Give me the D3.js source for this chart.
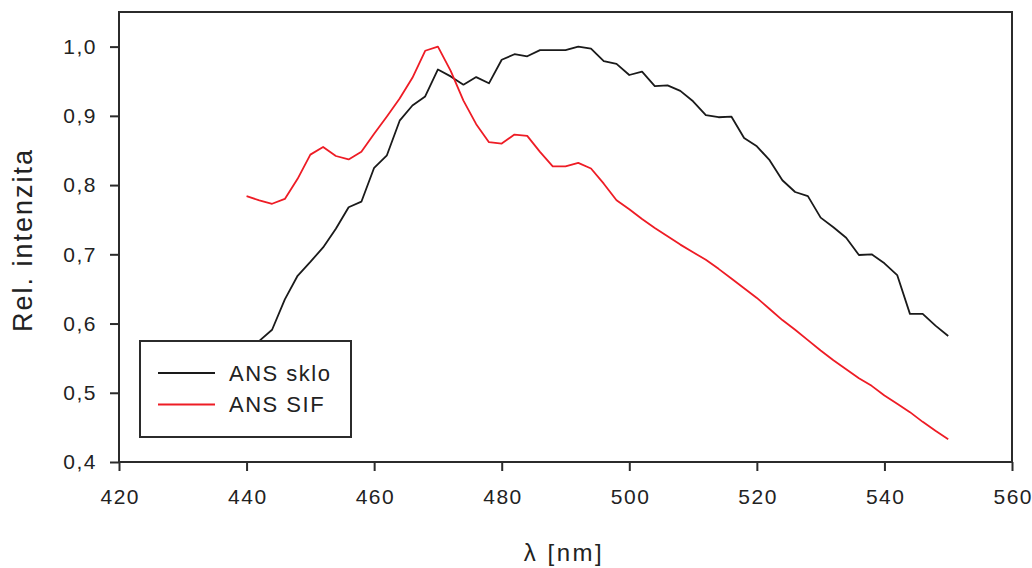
<!DOCTYPE html>
<html>
<head>
<meta charset="utf-8">
<script src="https://cdn.jsdelivr.net/npm/d3@7/dist/d3.min.js"></script>
<style>
  html, body { margin: 0; padding: 0; background: #fff; }
  svg { display: block; font-family: "Liberation Sans", Arial, Helvetica, sans-serif; }
</style>
</head>
<body>
<svg id="chart" width="1032" height="568"></svg>
<script>
const wavelengths = [440,442,444,446,448,450,452,454,456,458,460,462,464,466,468,470,472,474,476,478,480,482,484,486,488,490,492,494,496,498,500,502,504,506,508,510,512,514,516,518,520,522,524,526,528,530,532,534,536,538,540,542,544,546,548,550];

const ansSklo = [0.555,0.575,0.591,0.635,0.669,0.689,0.710,0.737,0.768,0.776,0.825,0.843,0.893,0.915,0.928,0.967,0.957,0.945,0.956,0.947,0.981,0.989,0.986,0.995,0.995,0.995,1.000,0.997,0.979,0.975,0.959,0.964,0.943,0.944,0.936,0.921,0.901,0.898,0.899,0.868,0.856,0.836,0.807,0.790,0.784,0.753,0.739,0.724,0.699,0.700,0.687,0.670,0.614,0.614,0.597,0.582];

const ansSif = [0.784,0.778,0.773,0.780,0.809,0.844,0.855,0.842,0.837,0.848,0.874,0.899,0.925,0.955,0.994,1.000,0.965,0.922,0.888,0.862,0.860,0.873,0.871,0.848,0.827,0.827,0.832,0.824,0.802,0.778,0.765,0.751,0.738,0.726,0.714,0.703,0.692,0.679,0.665,0.651,0.637,0.621,0.605,0.591,0.576,0.561,0.547,0.534,0.521,0.510,0.496,0.484,0.472,0.458,0.445,0.433];

const xTicks = [420,440,460,480,500,520,540,560];
const yTicks = [0.4,0.5,0.6,0.7,0.8,0.9,1.0];
const seriesNames = ["ANS sklo", "ANS SIF"];
const seriesColors = ["#1a1a1a", "#ee1c25"];

(function () {
const mL = 119, mR = 1012, mT = 12, mB = 462;
const svg = d3.select("#chart");
const x = d3.scaleLinear().domain([420, 560]).range([mL, mR]);
const y = d3.scaleLinear().domain([0.4, 1.05]).range([mB, mT]);
const axisColor = "#2b2b2b";
const fmt = d => d3.format(".1f")(d).replace(".", ",");

// frame
svg.append("rect")
  .attr("x", mL).attr("y", mT)
  .attr("width", mR - mL).attr("height", mB - mT)
  .attr("fill", "none").attr("stroke", axisColor).attr("stroke-width", 2);

// y axis
const gy = svg.append("g").attr("transform", `translate(${mL},0)`)
  .call(d3.axisLeft(y).tickValues(yTicks).tickFormat(fmt).tickSize(9).tickSizeOuter(0).tickPadding(13));
gy.select(".domain").remove();
gy.selectAll(".tick line").attr("stroke", axisColor).attr("stroke-width", 2);
gy.selectAll(".tick text").attr("fill", "#222").style("font-size", "21px").style("letter-spacing", "1.5px");

// x axis
const gx = svg.append("g").attr("transform", `translate(0,${mB})`)
  .call(d3.axisBottom(x).tickValues(xTicks).tickFormat(d3.format("d")).tickSize(9).tickSizeOuter(0).tickPadding(18));
gx.select(".domain").remove();
gx.selectAll(".tick line").attr("stroke", axisColor).attr("stroke-width", 2);
gx.selectAll(".tick text").attr("fill", "#222").style("font-size", "21px").style("letter-spacing", "1.5px").attr("dx", "0.75px");

// axis titles
svg.append("text")
  .attr("transform", "translate(32,240) rotate(-90)")
  .attr("text-anchor", "middle")
  .attr("fill", "#222")
  .style("font-size", "27px").style("letter-spacing", "2px")
  .text("Rel. intenzita");

svg.append("text")
  .attr("x", 564).attr("y", 561)
  .attr("text-anchor", "middle")
  .attr("fill", "#222")
  .style("font-size", "24px").style("letter-spacing", "2.5px")
  .text("λ [nm]");

// lines
const line = d3.line().x((d, i) => x(wavelengths[i])).y(d => y(d));
[ansSklo, ansSif].forEach((s, k) => {
  svg.append("path")
    .datum(s)
    .attr("fill", "none")
    .attr("stroke", seriesColors[k])
    .attr("stroke-width", 1.8)
    .attr("stroke-linejoin", "round")
    .attr("d", line);
});

// legend
const lg = svg.append("g");
lg.append("rect")
  .attr("x", 140).attr("y", 341).attr("width", 211).attr("height", 96)
  .attr("fill", "#fff").attr("stroke", axisColor).attr("stroke-width", 2);
seriesNames.forEach((name, i) => {
  const yy = 373 + i * 31.5;
  lg.append("line")
    .attr("x1", 158).attr("x2", 215).attr("y1", yy).attr("y2", yy)
    .attr("stroke", seriesColors[i]).attr("stroke-width", 2);
  lg.append("text")
    .attr("x", 229).attr("y", yy).attr("dy", "0.36em")
    .attr("fill", "#222")
    .style("font-size", "22px").style("letter-spacing", "1.5px")
    .text(name);
});
})();
</script>
</body>
</html>
